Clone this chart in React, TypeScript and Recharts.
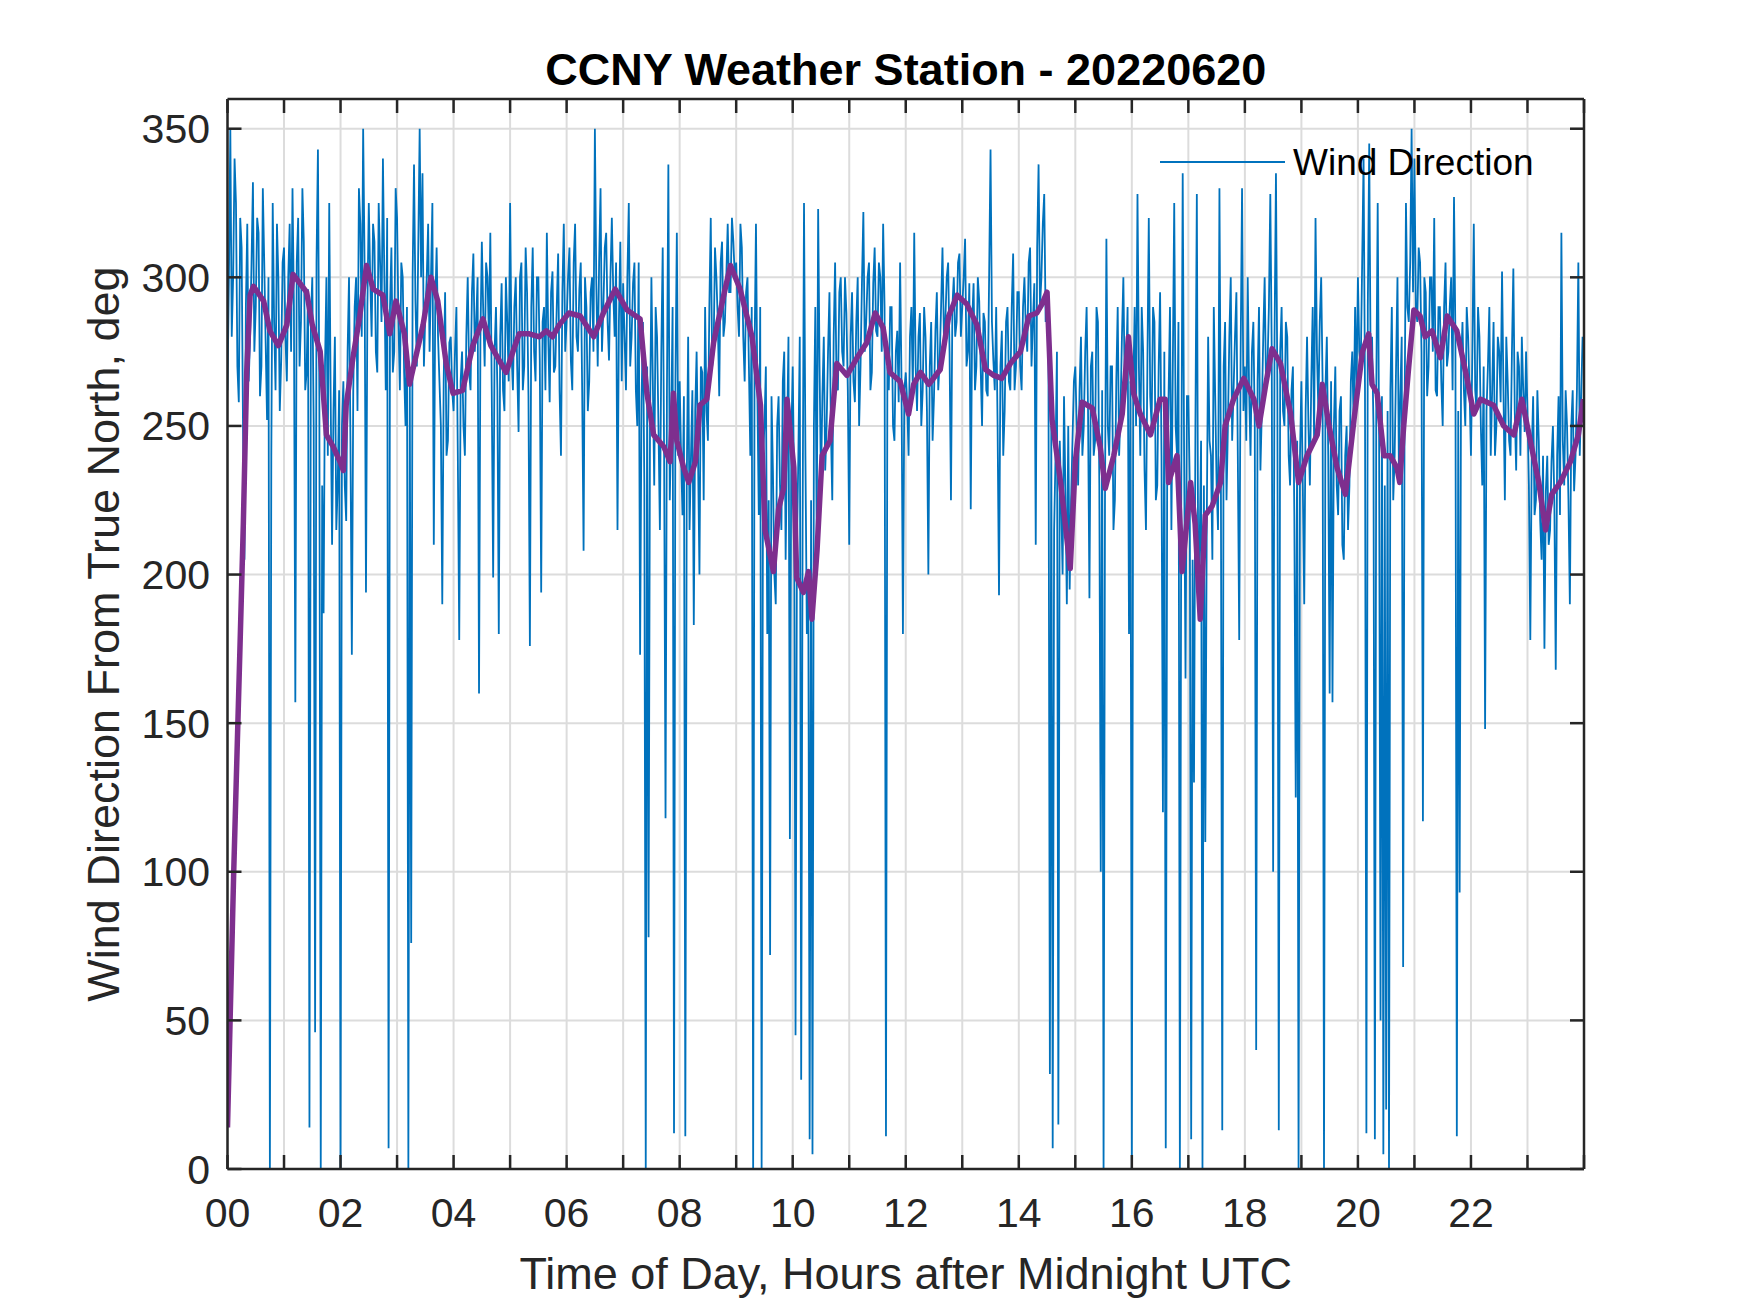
import { LineChart, Line, XAxis, YAxis, CartesianGrid, Legend } from "recharts";

// raw wind direction, one reading every 1.5 minutes (deg from true north), one row per hour
const STEP_H = 0.025;

const windDir00to06 = [
  262, 300, 350, 280, 300, 340, 325, 270, 258, 320, 310, 248, 205, 290, 318, 265, 280, 305, 332, 275, 290, 320, 315, 260, 270, 330, 305, 278, 252, 300, 0, 240, 325, 285, 262, 318, 300, 255, 272, 305,
  310, 280, 265, 300, 318, 275, 330, 290, 157, 305, 320, 270, 285, 330, 312, 262, 268, 296, 14, 285, 300, 250, 46, 305, 343, 260, 0, 230, 187, 270, 300, 240, 325, 260, 210, 255, 280, 215, 230, 262,
  0, 250, 265, 230, 218, 275, 300, 245, 173, 262, 290, 300, 255, 330, 318, 280, 350, 305, 194, 290, 325, 300, 280, 318, 312, 275, 268, 325, 305, 285, 340, 300, 262, 320, 7, 290, 310, 268, 275, 330,
  320, 285, 262, 305, 300, 268, 250, 290, 0, 265, 76, 300, 338, 292, 270, 310, 350, 300, 335, 270, 288, 300, 318, 275, 300, 325, 210, 290, 310, 280, 265, 250, 190, 265, 295, 240, 245, 278, 280, 262,
  255, 275, 290, 240, 178, 265, 275, 250, 240, 280, 300, 268, 262, 295, 308, 275, 285, 300, 160, 280, 312, 288, 270, 305, 300, 280, 315, 262, 199, 275, 290, 262, 180, 280, 298, 262, 255, 300, 285, 265,
  325, 275, 262, 290, 300, 270, 248, 300, 305, 262, 270, 310, 295, 260, 176, 290, 310, 275, 265, 300, 300, 272, 194, 285, 290, 262, 315, 280, 258, 295, 302, 268, 270, 290, 308, 262, 240, 295, 318, 275,
];

const windDir06to12 = [
  285, 300, 310, 272, 262, 305, 318, 280, 275, 296, 305, 262, 208, 300, 290, 255, 265, 295, 300, 275, 350, 298, 270, 305, 330, 275, 290, 310, 315, 285, 272, 300, 320, 295, 280, 305, 215, 285, 312, 265,
  298, 280, 262, 300, 325, 270, 280, 298, 305, 262, 250, 305, 173, 258, 285, 230, 0, 270, 78, 250, 300, 265, 230, 290, 280, 250, 215, 275, 310, 240, 118, 262, 338, 225, 250, 290, 12, 265, 315, 240,
  265, 240, 220, 260, 11, 230, 280, 215, 240, 262, 183, 255, 275, 240, 200, 270, 268, 225, 290, 255, 245, 290, 320, 270, 275, 310, 300, 285, 260, 305, 312, 280, 285, 300, 318, 295, 295, 320, 312, 300,
  305, 290, 280, 318, 310, 280, 265, 295, 300, 270, 240, 290, 0, 275, 318, 260, 220, 290, 0, 240, 250, 270, 180, 225, 72, 260, 235, 200, 190, 250, 260, 230, 215, 265, 275, 205, 245, 280, 111, 245,
  270, 230, 45, 210, 240, 280, 30, 215, 325, 240, 180, 200, 10, 225, 5, 250, 290, 210, 323, 270, 230, 260, 280, 235, 250, 275, 295, 250, 225, 280, 305, 265, 262, 295, 300, 275, 270, 300, 288, 262,
  210, 280, 295, 265, 258, 285, 300, 250, 270, 298, 322, 275, 285, 300, 305, 262, 268, 298, 310, 282, 280, 305, 300, 275, 318, 290, 11, 270, 262, 290, 290, 250, 245, 275, 282, 258, 305, 265, 180, 262,
];

const windDir12to18 = [
  268, 258, 240, 280, 290, 262, 315, 270, 255, 280, 288, 250, 262, 290, 280, 255, 200, 270, 285, 245, 260, 282, 295, 262, 272, 290, 310, 280, 285, 300, 305, 275, 225, 290, 300, 280, 285, 305, 308, 280,
  290, 300, 313, 270, 275, 298, 222, 285, 298, 262, 270, 300, 292, 270, 250, 288, 285, 262, 260, 300, 343, 285, 272, 262, 290, 250, 193, 270, 282, 240, 255, 285, 290, 265, 262, 290, 308, 262, 270, 295,
  295, 270, 262, 290, 300, 282, 275, 305, 310, 270, 285, 298, 210, 310, 338, 290, 300, 318, 328, 285, 295, 270, 32, 250, 7, 215, 240, 275, 15, 245, 225, 200, 260, 228, 190, 250, 195, 225, 245, 265,
  270, 250, 230, 262, 280, 240, 250, 275, 290, 255, 192, 270, 275, 240, 245, 290, 285, 230, 100, 262, 0, 225, 313, 250, 240, 270, 270, 215, 225, 265, 290, 240, 255, 280, 300, 262, 270, 290, 180, 265,
  0, 262, 290, 250, 328, 270, 240, 290, 275, 235, 215, 270, 320, 260, 250, 290, 285, 225, 230, 270, 295, 240, 120, 275, 7, 230, 260, 290, 215, 270, 325, 250, 240, 285, 0, 230, 335, 240, 165, 260,
  260, 230, 10, 205, 130, 250, 328, 195, 210, 245, 0, 230, 110, 215, 280, 245, 240, 205, 290, 260, 230, 215, 330, 240, 13, 270, 285, 225, 250, 280, 300, 245, 262, 280, 295, 240, 178, 275, 330, 255,
];

const windDir18to24 = [
  270, 245, 300, 262, 240, 275, 285, 250, 40, 265, 290, 235, 255, 280, 300, 262, 270, 290, 328, 275, 100, 280, 335, 262, 13, 275, 290, 255, 250, 285, 280, 240, 230, 262, 270, 220, 125, 245, 0, 240,
  265, 230, 190, 255, 280, 250, 230, 265, 290, 245, 320, 275, 255, 285, 300, 265, 0, 262, 280, 240, 160, 265, 157, 250, 270, 230, 220, 255, 260, 210, 205, 240, 250, 215, 230, 265, 275, 250, 290, 262,
  300, 275, 270, 305, 340, 262, 12, 290, 345, 270, 280, 250, 10, 262, 325, 245, 50, 260, 5, 230, 20, 255, 0, 262, 290, 225, 240, 270, 300, 235, 260, 280, 68, 250, 325, 290, 285, 305, 350, 295,
  340, 290, 285, 310, 305, 275, 117, 300, 295, 260, 270, 300, 300, 275, 320, 262, 260, 290, 290, 265, 250, 290, 305, 270, 275, 290, 300, 262, 327, 280, 11, 255, 93, 270, 285, 262, 250, 290, 280, 262,
  240, 275, 318, 262, 255, 290, 280, 250, 230, 270, 148, 255, 270, 290, 240, 262, 285, 240, 250, 280, 275, 258, 302, 262, 225, 280, 265, 245, 240, 275, 303, 255, 235, 275, 270, 240, 280, 262, 248, 275,
  255, 230, 178, 240, 260, 220, 225, 262, 245, 218, 205, 240, 175, 228, 240, 210, 215, 238, 250, 225, 168, 240, 260, 220, 315, 245, 230, 262, 250, 225, 190, 250, 262, 228, 240, 262, 305, 240, 260, 280,
];

// running mean (purple), read at its turning points
const smoothHours = [
  0, 0.11, 0.22, 0.28, 0.34, 0.4, 0.46, 0.64, 0.75, 0.9, 1.05, 1.16, 1.28, 1.4, 1.5, 1.64, 1.75, 1.87,
  1.99, 2.05, 2.1, 2.22, 2.34, 2.46, 2.58, 2.75, 2.87, 2.98, 3.13, 3.22, 3.34, 3.46, 3.6, 3.72, 3.87,
  3.99, 4.16, 4.34, 4.52, 4.66, 4.81, 4.93, 5.05, 5.16, 5.34, 5.52, 5.64, 5.75, 5.87, 6.04, 6.24, 6.48,
  6.65, 6.86, 7.07, 7.3, 7.42, 7.54, 7.72, 7.83, 7.89, 7.95, 8.07, 8.16, 8.28, 8.36, 8.48, 8.6, 8.78,
  8.9, 9.07, 9.28, 9.43, 9.51, 9.66, 9.75, 9.84, 9.9, 10.02, 10.07, 10.19, 10.28, 10.34, 10.43, 10.52,
  10.66, 10.78, 10.96, 11.14, 11.31, 11.46, 11.6, 11.72, 11.9, 12.05, 12.14, 12.26, 12.41, 12.61, 12.76,
  12.91, 13.08, 13.26, 13.41, 13.56, 13.7, 13.85, 14.03, 14.18, 14.32, 14.41, 14.5, 14.59, 14.74, 14.91,
  15.0, 15.12, 15.3, 15.44, 15.53, 15.68, 15.83, 15.94, 16.03, 16.15, 16.33, 16.5, 16.59, 16.65, 16.8,
  16.89, 17.04, 17.12, 17.21, 17.3, 17.42, 17.57, 17.65, 17.8, 17.98, 18.16, 18.25, 18.37, 18.48, 18.63,
  18.81, 18.95, 19.1, 19.28, 19.37, 19.49, 19.63, 19.78, 19.93, 20.08, 20.19, 20.25, 20.34, 20.46, 20.57,
  20.69, 20.74, 20.81, 20.89, 20.99, 21.1, 21.19, 21.31, 21.46, 21.58, 21.75, 21.93, 22.05, 22.17, 22.4,
  22.58, 22.76, 22.9, 23.05, 23.2, 23.32, 23.43, 23.58, 23.76, 23.9, 23.99,
];

const smoothDir = [
  14, 100, 175, 217, 268, 294, 297, 292, 282, 277, 284, 301, 298, 295, 284, 275, 247, 243,
  238, 235, 257, 273, 287, 304, 296, 294, 281, 292, 281, 264, 274, 284, 300, 292, 271,
  261, 262, 277, 286, 277, 272, 268, 275, 281, 281, 280, 282, 280, 284, 288, 287, 280,
  288, 296, 289, 286, 261, 247, 243, 238, 261, 245, 236, 231, 238, 257, 259, 278, 294,
  304, 296, 280, 257, 215, 201, 222, 229, 259, 236, 199, 194, 201, 185, 208, 240,
  245, 271, 267, 273, 278, 288, 283, 268, 265, 254, 264, 268, 264, 269, 287,
  294, 291, 284, 269, 267, 266, 271, 275, 287, 288, 291, 295, 252, 231, 202,
  238, 258, 256, 243, 229, 240, 254, 280, 261, 254, 247, 259, 259, 231, 240,
  201, 231, 217, 185, 220, 223, 231, 250, 259, 266, 259, 250, 264, 276, 271,
  254, 231, 240, 247, 264, 250, 236, 227, 252, 275, 281, 264, 261, 240, 240,
  236, 231, 250, 268, 289, 287, 280, 282, 273, 287, 282, 266, 254, 259, 257,
  250, 247, 259, 245, 231, 215, 227, 231, 238, 247, 259,
];

const hourTicks = [0, 1, 2, 3, 4, 5, 6, 7, 8, 9, 10, 11, 12, 13, 14, 15, 16, 17, 18, 19, 20, 21, 22, 23, 24];
const degTicks = [0, 50, 100, 150, 200, 250, 300, 350];

const TITLE = "CCNY Weather Station - 20220620";
const X_LABEL = "Time of Day, Hours after Midnight UTC";
const Y_LABEL = "Wind Direction From True North, deg";
const SERIES_NAME = "Wind Direction";

const BLUE = "#0072BD";
const PURPLE = "#7E2F8E";
const AXIS = "#262626";
const FONT = "'Liberation Sans', Arial, Helvetica, sans-serif";

const rawData = [...windDir00to06, ...windDir06to12, ...windDir12to18, ...windDir18to24].map(
  (v, i) => ({ t: i * STEP_H, v }),
);
const smoothData = smoothHours.map((t, i) => ({ t, v: smoothDir[i] }));

const W = 1750;
const H = 1313;
const PLOT = { left: 227.5, right: 1584, top: 99, bottom: 1169 };

const hourLabel = (h: number) => (h % 2 === 0 && h < 24 ? String(h).padStart(2, "0") : "");

function LegendBox() {
  return (
    <svg width={420} height={50} style={{ display: "block" }}>
      <line x1={0} y1={22} x2={125} y2={22} stroke={BLUE} strokeWidth={2} />
      <text x={133} y={35} fontSize={37} fontFamily={FONT} fill="#000">
        {SERIES_NAME}
      </text>
    </svg>
  );
}

export default function App() {
  const tickFont = { fontSize: 41, fill: AXIS, fontFamily: FONT };
  const frame = { stroke: AXIS, strokeWidth: 2.5 };
  // the top and right axes need a 1px band, otherwise recharts skips drawing them
  return (
    <div style={{ position: "absolute", left: 0, top: 0, width: W, height: H, background: "#fff" }}>
      <LineChart
        width={W}
        height={H}
        margin={{ top: PLOT.top - 1, right: W - PLOT.right - 1, bottom: 0, left: 0 }}
      >
        <CartesianGrid stroke="#dcdcdc" strokeWidth={2} />
        <XAxis
          dataKey="t"
          type="number"
          domain={[0, 24]}
          ticks={hourTicks}
          interval={0}
          height={H - PLOT.bottom}
          tickFormatter={hourLabel}
          tickSize={-14}
          tickMargin={43}
          tick={tickFont}
          axisLine={frame}
          tickLine={frame}
          allowDataOverflow
        />
        <XAxis
          xAxisId="top"
          dataKey="t"
          orientation="top"
          type="number"
          domain={[0, 24]}
          ticks={hourTicks}
          interval={0}
          height={1}
          tickFormatter={() => ""}
          tickSize={-14}
          axisLine={frame}
          tickLine={frame}
          allowDataOverflow
        />
        <YAxis
          type="number"
          domain={[0, 360]}
          ticks={degTicks}
          interval={0}
          width={PLOT.left}
          tickSize={-14}
          tickMargin={31.5}
          tick={tickFont}
          axisLine={frame}
          tickLine={frame}
          allowDataOverflow
        />
        <YAxis
          yAxisId="right"
          orientation="right"
          type="number"
          domain={[0, 360]}
          ticks={degTicks}
          interval={0}
          width={1}
          tickFormatter={() => ""}
          tickSize={-14}
          axisLine={frame}
          tickLine={frame}
          allowDataOverflow
        />
        <Line
          data={rawData}
          dataKey="v"
          name={SERIES_NAME}
          type="linear"
          stroke={BLUE}
          strokeWidth={1.8}
          dot={false}
          activeDot={false}
          isAnimationActive={false}
        />
        <Line
          data={smoothData}
          dataKey="v"
          name="Running mean"
          type="linear"
          stroke={PURPLE}
          strokeWidth={5.5}
          strokeLinejoin="round"
          dot={false}
          activeDot={false}
          legendType="none"
          isAnimationActive={false}
        />
        {/* invisible copy bound to the top/right axes so they get a scale */}
        <Line
          xAxisId="top"
          yAxisId="right"
          data={smoothData}
          dataKey="v"
          stroke="none"
          dot={false}
          activeDot={false}
          legendType="none"
          isAnimationActive={false}
        />
        <Legend
          layout="vertical"
          align="center"
          verticalAlign="middle"
          content={() => <LegendBox />}
          wrapperStyle={{ left: 1160, top: 140, width: 420, height: 50 }}
        />
      </LineChart>
      <svg
        width={W}
        height={H}
        style={{ position: "absolute", left: 0, top: 0, pointerEvents: "none" }}
      >
        <text
          x={(PLOT.left + PLOT.right) / 2}
          y={85}
          textAnchor="middle"
          fontSize={45}
          fontWeight="bold"
          fontFamily={FONT}
          fill="#000"
        >
          {TITLE}
        </text>
        <text
          x={(PLOT.left + PLOT.right) / 2}
          y={1289}
          textAnchor="middle"
          fontSize={45}
          fontFamily={FONT}
          fill={AXIS}
        >
          {X_LABEL}
        </text>
        <text
          x={0}
          y={0}
          transform={`translate(119, ${(PLOT.top + PLOT.bottom) / 2}) rotate(-90)`}
          textAnchor="middle"
          fontSize={45}
          fontFamily={FONT}
          fill={AXIS}
        >
          {Y_LABEL}
        </text>
      </svg>
    </div>
  );
}
